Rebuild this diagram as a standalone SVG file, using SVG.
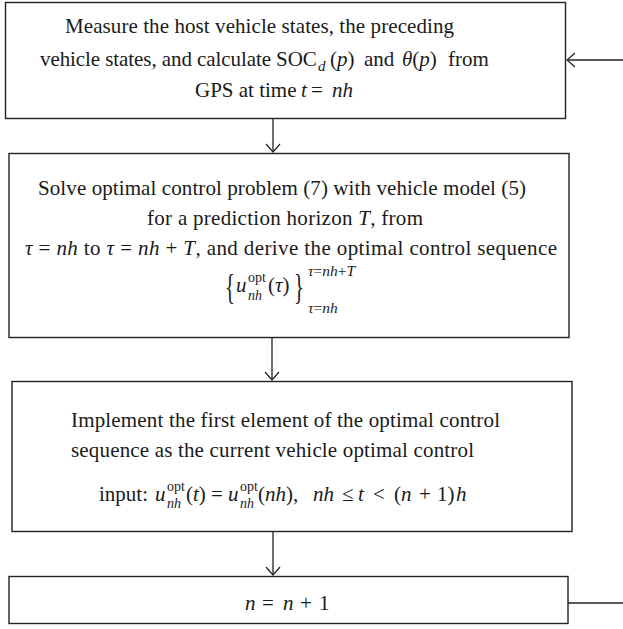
<svg xmlns="http://www.w3.org/2000/svg" width="623" height="629" viewBox="0 0 623 629">
<style>
.box{fill:#fff;stroke:#222;stroke-width:1.4}
.t{font-family:"Liberation Serif","Times New Roman",serif;font-size:21px;fill:#1a1a1a}
.i{font-style:italic}
.s{font-size:14px}
.lim{font-size:15.5px}
.sd{font-size:15px}
.br{font-size:26px}
.c{fill:none;stroke:#222;stroke-width:1.3}
</style>
<defs>
<marker id="ah" markerUnits="userSpaceOnUse" viewBox="-10 -9 12 18" markerWidth="12" markerHeight="18" refX="0" refY="0" orient="auto">
<path d="M-8,-7 L0,0 L-8,7" fill="none" stroke="#222" stroke-width="1.2"/>
</marker>
</defs>
<rect width="623" height="629" fill="#fff"/>
<g id="connectors">
<path class="c" d="M273,118 L273,152" marker-end="url(#ah)"/>
<path class="c" d="M272,338 L272,380" marker-end="url(#ah)"/>
<path class="c" d="M273,532 L273,575" marker-end="url(#ah)"/>
<path class="c" d="M568,603 L623,603" stroke="#444" stroke-width="1.8"/>
<path class="c" d="M623,60 L567,60" marker-end="url(#ah)"/>
</g>
<g id="node1">
<rect class="box" x="5.5" y="2.5" width="560" height="116"/>
<text class="t" x="65" y="33" textLength="389" lengthAdjust="spacing">Measure the host vehicle states, the preceding</text>
<text class="t" y="66"><tspan x="40" textLength="231" lengthAdjust="spacing">vehicle states, and calculate</tspan><tspan x="276">SOC</tspan><tspan x="318" y="71" class="i sd">d</tspan><tspan x="330" y="66">(</tspan><tspan class="i">p</tspan><tspan>)</tspan><tspan x="364">and</tspan><tspan x="402" class="i">θ</tspan><tspan>(</tspan><tspan class="i">p</tspan><tspan>)</tspan><tspan x="448">from</tspan></text>
<text class="t" y="97"><tspan x="195">GPS at time</tspan><tspan x="301" class="i">t</tspan><tspan x="311">=</tspan><tspan x="332" class="i">nh</tspan></text>
</g>
<g id="node2">
<rect class="box" x="9" y="153.5" width="560" height="184"/>
<text class="t" x="38" y="195" textLength="488" lengthAdjust="spacing">Solve optimal control problem (7) with vehicle model (5)</text>
<text class="t" x="147" y="225" textLength="276" lengthAdjust="spacing">for a prediction horizon <tspan class="i">T</tspan>, from</text>
<text class="t" x="25" y="255" textLength="532" lengthAdjust="spacing"><tspan class="i">τ</tspan> = <tspan class="i">nh</tspan> to <tspan class="i">τ</tspan> = <tspan class="i">nh</tspan> + <tspan class="i">T</tspan>, and derive the optimal control sequence</text>
<text class="t br" transform="translate(225,299) scale(0.8,1.4)">{</text>
<text class="t br" transform="translate(294,299) scale(0.8,1.4)">}</text>
<text class="t"><tspan x="236" y="292" class="i">u</tspan><tspan x="248" y="282" class="s">opt</tspan><tspan x="248" y="300" class="s i">nh</tspan><tspan x="268" y="292">(</tspan><tspan class="i">τ</tspan><tspan>)</tspan></text>
<text class="t lim"><tspan x="308" y="276" class="i">τ</tspan><tspan>=</tspan><tspan class="i">nh</tspan><tspan>+</tspan><tspan class="i">T</tspan><tspan x="308" y="313" class="i">τ</tspan><tspan>=</tspan><tspan class="i">nh</tspan></text>
</g>
<g id="node3">
<rect class="box" x="12" y="381.5" width="560" height="150"/>
<text class="t" x="71" y="427" textLength="429" lengthAdjust="spacing">Implement the first element of the optimal control</text>
<text class="t" x="71" y="457" textLength="403" lengthAdjust="spacing">sequence as the current vehicle optimal control</text>
<text class="t"><tspan x="99" y="501">input:</tspan><tspan x="155" class="i">u</tspan><tspan x="167" y="491" class="s">opt</tspan><tspan x="167" y="508" class="s i">nh</tspan><tspan x="186" y="501">(</tspan><tspan class="i">t</tspan><tspan>)</tspan><tspan x="211">=</tspan><tspan x="228" class="i">u</tspan><tspan x="240" y="491" class="s">opt</tspan><tspan x="240" y="508" class="s i">nh</tspan><tspan x="258" y="501">(</tspan><tspan class="i">nh</tspan><tspan>),</tspan><tspan x="313" class="i">nh</tspan><tspan x="342">≤</tspan><tspan x="358" class="i">t</tspan><tspan x="373">&lt;</tspan><tspan x="394">(</tspan><tspan x="401" class="i">n</tspan><tspan x="419">+</tspan><tspan x="437">1)</tspan><tspan x="456" class="i">h</tspan></text>
</g>
<g id="node4">
<rect class="box" x="9" y="576.5" width="559" height="47"/>
<text class="t" y="610"><tspan x="245" class="i">n</tspan><tspan x="262">=</tspan><tspan x="283" class="i">n</tspan><tspan x="300">+</tspan><tspan x="319">1</tspan></text>
</g>
</svg>
